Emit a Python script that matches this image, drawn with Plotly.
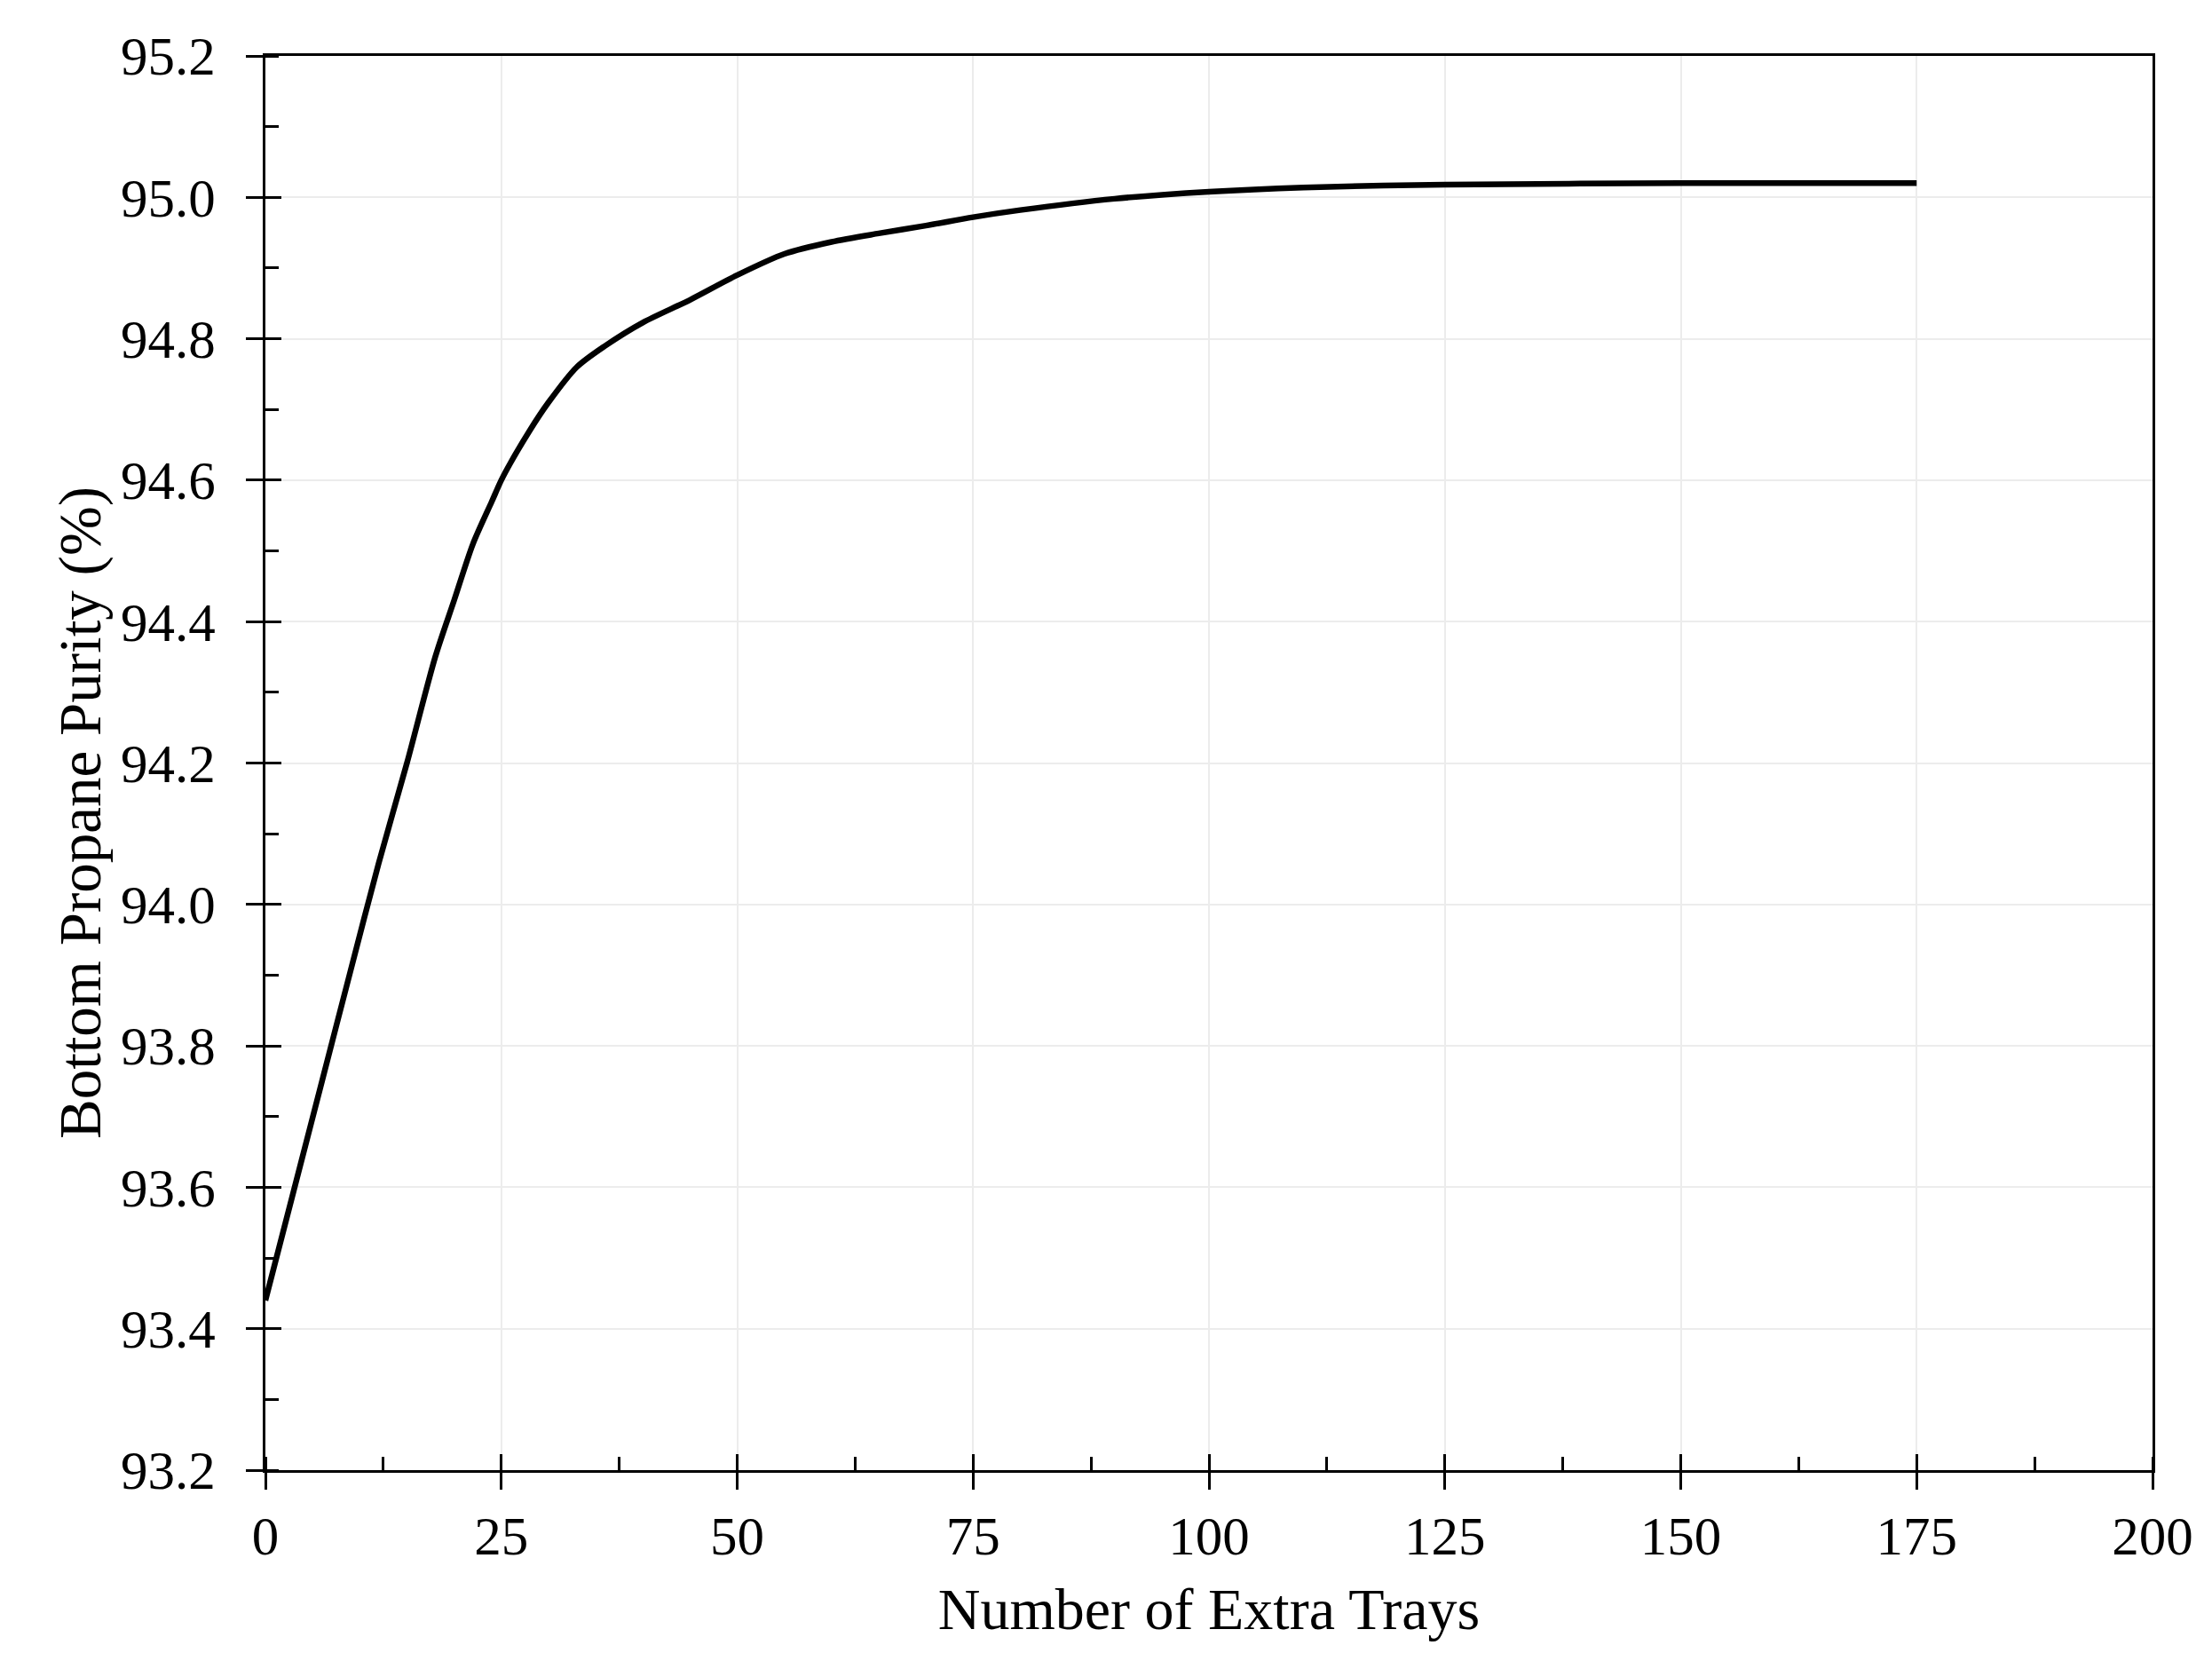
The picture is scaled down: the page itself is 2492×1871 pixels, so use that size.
import plotly.graph_objects as go

# Data
extra_trays = [0, 3, 6, 9, 12, 15, 18, 20, 22, 24, 25, 26, 28, 30, 33, 36, 40, 45, 50,
               55, 60, 65, 70, 75, 80, 90, 100, 110, 125, 150, 175]
purity = [93.44, 93.595, 93.75, 93.905, 94.058, 94.20, 94.35, 94.43, 94.51, 94.57, 94.60,
          94.625, 94.67, 94.71, 94.76, 94.79, 94.823, 94.855, 94.89,
          94.92, 94.937, 94.949, 94.96, 94.972, 94.982, 94.998, 95.008, 95.014, 95.018, 95.020, 95.020]

x_range = [0, 200]
y_range = [93.2, 95.2]
x_title = "Number of Extra Trays"
y_title = "Bottom Propane Purity (%)"

FONT = "Liberation Serif"

fig = go.Figure()
fig.add_trace(go.Scatter(
    x=extra_trays, y=purity, mode="lines",
    line=dict(color="black", width=6.5, shape="spline", smoothing=0.8),
    showlegend=False, hoverinfo="x+y",
))
# invisible trace to carry the overlay axes (inside half of crossing major ticks)
fig.add_trace(go.Scatter(x=[0], y=[93.2], xaxis="x2", yaxis="y2", mode="markers",
                         marker=dict(opacity=0), showlegend=False, hoverinfo="skip"))

fig.update_layout(
    width=2484, height=1863,
    margin=dict(l=291, r=67, t=55, b=215),
    paper_bgcolor="white", plot_bgcolor="white",
    font=dict(family=FONT, color="black"),
    xaxis=dict(
        range=x_range, dtick=25, tick0=0, automargin=False,
        showline=True, linecolor="black", linewidth=3, mirror=True,
        ticks="outside", ticklen=19, tickwidth=3, tickcolor="black",
        showgrid=True, gridcolor="#ececec", gridwidth=2, zeroline=False,
        tickfont=dict(size=61, family=FONT), ticklabelstandoff=0,
        minor=dict(dtick=12.5, tick0=0, ticks="inside", ticklen=15, tickwidth=2.5, tickcolor="black", showgrid=False),
        title=dict(text=x_title, font=dict(size=66, family=FONT), standoff=26),
    ),
    yaxis=dict(
        range=y_range, dtick=0.2, tick0=93.2, tickformat=".1f", automargin=False,
        showline=True, linecolor="black", linewidth=3, mirror=True,
        ticks="outside", ticklen=19, tickwidth=3, tickcolor="black",
        showgrid=True, gridcolor="#ececec", gridwidth=2, zeroline=False,
        tickfont=dict(size=61, family=FONT), ticklabelstandoff=22,
        minor=dict(dtick=0.1, tick0=93.2, ticks="inside", ticklen=15, tickwidth=2.5, tickcolor="black", showgrid=False),
    ),
    xaxis2=dict(
        range=x_range, dtick=25, tick0=0, overlaying="x", anchor="y2", side="bottom", automargin=False,
        ticks="inside", ticklen=18, tickwidth=3, tickcolor="black",
        showticklabels=False, showgrid=False, showline=False, zeroline=False,
    ),
    yaxis2=dict(
        range=y_range, dtick=0.2, tick0=93.2, overlaying="y", anchor="x2", side="left", automargin=False,
        ticks="inside", ticklen=18, tickwidth=3, tickcolor="black",
        showticklabels=False, showgrid=False, showline=False, zeroline=False,
    ),
    annotations=[dict(
        text=y_title, textangle=-90, xref="paper", yref="paper",
        x=0, y=0.4645, xanchor="center", yanchor="middle", xshift=-209,
        showarrow=False, font=dict(size=67, family=FONT, color="black"),
    )],
)

fig.write_html("out.html")
